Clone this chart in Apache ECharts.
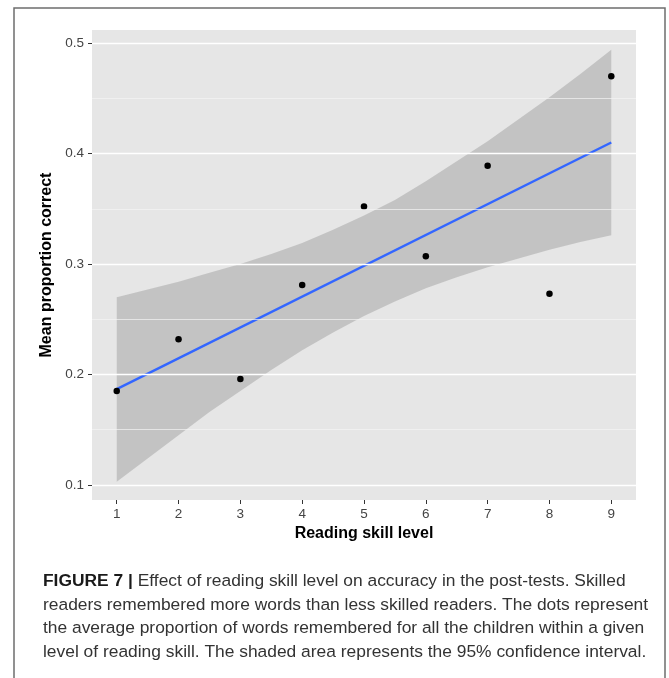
<!DOCTYPE html>
<html>
<head>
<meta charset="utf-8">
<script src="https://cdn.jsdelivr.net/npm/echarts@6/dist/echarts.min.js"></script>
<style>
html,body{margin:0;padding:0;background:#fff;}
#chart{width:669px;height:678px;}
</style>
</head>
<body>
<div id="chart"></div>
<script>
// Data
var skillLevels = [1, 2, 3, 4, 5, 6, 7, 8, 9];
var meanCorrect = [0.185, 0.232, 0.196, 0.281, 0.352, 0.307, 0.389, 0.273, 0.470];
var fitX = [1, 9];
var fitY = [0.1867, 0.4100];
var bandX    = [1, 1.5, 2, 2.5, 3, 3.5, 4, 4.5, 5, 5.5, 6, 6.5, 7, 7.5, 8, 8.5, 9];
var bandLow  = [0.103, 0.124, 0.145, 0.166, 0.185, 0.204, 0.222, 0.238, 0.253, 0.266, 0.278, 0.288, 0.297, 0.305, 0.313, 0.320, 0.326];
var bandHigh = [0.270, 0.277, 0.284, 0.292, 0.300, 0.309, 0.319, 0.331, 0.344, 0.358, 0.375, 0.393, 0.411, 0.431, 0.451, 0.472, 0.494];
var yMajorTicks = [0.1, 0.2, 0.3, 0.4, 0.5];
var yMinorTicks = [0.15, 0.25, 0.35, 0.45];
var xTickLabels = ['1', '2', '3', '4', '5', '6', '7', '8', '9'];
var captionLines = [
  'Effect of reading skill level on accuracy in the post-tests. Skilled',
  'readers remembered more words than less skilled readers. The dots represent',
  'the average proportion of words remembered for all the children within a given',
  'level of reading skill. The shaded area represents the 95% confidence interval.'
];

var chart = echarts.init(document.getElementById('chart'), null, {renderer: 'canvas'});

var gridLines = [];
yMajorTicks.forEach(function (v) {
  gridLines.push({yAxis: v, lineStyle: {color: '#ffffff', width: 1.3, type: 'solid'}});
});
yMinorTicks.forEach(function (v) {
  gridLines.push({yAxis: v, lineStyle: {color: '#f3f3f3', width: 0.7, type: 'solid'}});
});

var baseFont = '"Liberation Sans", Arial, sans-serif';
var capSize = 17.4;
var graphics = [
  {type: 'rect', shape: {x: 14, y: 8, width: 651, height: 690}, style: {fill: 'none', stroke: '#6e6e6e', lineWidth: 1.5}, z: 0, silent: true}
];
captionLines.forEach(function (line, i) {
  var y = 581 + i * 23.8;
  var st = {fill: '#333', fontSize: capSize, fontFamily: baseFont, verticalAlign: 'middle'};
  if (i === 0) {
    st.text = '{b|FIGURE 7 |} ' + line;
    st.rich = {b: {fontWeight: 'bold', fill: '#1a1a1a', fontSize: capSize, fontFamily: baseFont}};
  } else {
    st.text = line;
  }
  graphics.push({type: 'text', x: 43, y: y, style: st});
});

var option = {
  backgroundColor: '#ffffff',
  animation: false,
  grid: {left: 92, top: 30, width: 544, height: 470, show: true, backgroundColor: '#e6e6e6', borderWidth: 0, containLabel: false},
  xAxis: {
    type: 'value', min: 0.6, max: 9.4,
    name: 'Reading skill level', nameLocation: 'middle', nameGap: 23,
    nameTextStyle: {fontWeight: 'bold', fontSize: 16, color: '#000', fontFamily: baseFont},
    axisLine: {show: false},
    axisTick: {show: true, inside: false, length: 4, lineStyle: {color: '#333', width: 1}, customValues: skillLevels},
    axisLabel: {show: true, margin: 7, fontSize: 13.5, color: '#444', fontFamily: baseFont,
      customValues: skillLevels, formatter: function (v) { return xTickLabels[skillLevels.indexOf(v)]; }},
    splitLine: {show: false}
  },
  yAxis: {
    type: 'value', min: 0.0864, max: 0.5118,
    name: 'Mean proportion correct', nameLocation: 'middle', nameGap: 32,
    nameTextStyle: {fontWeight: 'bold', fontSize: 16, color: '#000', fontFamily: baseFont},
    axisLine: {show: false},
    axisTick: {show: true, inside: false, length: 4, lineStyle: {color: '#333', width: 1}, customValues: yMajorTicks},
    axisLabel: {show: true, margin: 8, fontSize: 13.5, color: '#444', fontFamily: baseFont,
      customValues: yMajorTicks, formatter: function (v) { return v.toFixed(1); }},
    splitLine: {show: false}
  },
  graphic: graphics,
  series: [
    {
      type: 'line', data: [], z: 1, silent: true,
      markLine: {silent: true, symbol: ['none', 'none'], label: {show: false}, animation: false, data: gridLines}
    },
    {
      type: 'custom', z: 2, silent: true, clip: true,
      data: bandX.map(function (x, i) { return [x, bandLow[i], bandHigh[i]]; }),
      encode: {x: 0, y: [1, 2]},
      renderItem: function (params, api) {
        if (params.dataIndex !== 0) return null;
        var pts = [];
        for (var i = 0; i < bandX.length; i++) pts.push(api.coord([bandX[i], bandHigh[i]]));
        for (var j = bandX.length - 1; j >= 0; j--) pts.push(api.coord([bandX[j], bandLow[j]]));
        return {type: 'polygon', shape: {points: pts}, style: {fill: 'rgba(153,153,153,0.45)', stroke: 'none'}};
      }
    },
    {
      type: 'line', z: 3, silent: true,
      data: fitX.map(function (x, i) { return [x, fitY[i]]; }),
      showSymbol: false, symbol: 'none',
      lineStyle: {color: '#3366FF', width: 2.4}
    },
    {
      type: 'scatter', z: 4, silent: true,
      data: skillLevels.map(function (x, i) { return [x, meanCorrect[i]]; }),
      symbol: 'circle', symbolSize: 6.5,
      itemStyle: {color: '#000', opacity: 1}
    }
  ]
};
chart.setOption(option);
</script>
</body>
</html>
